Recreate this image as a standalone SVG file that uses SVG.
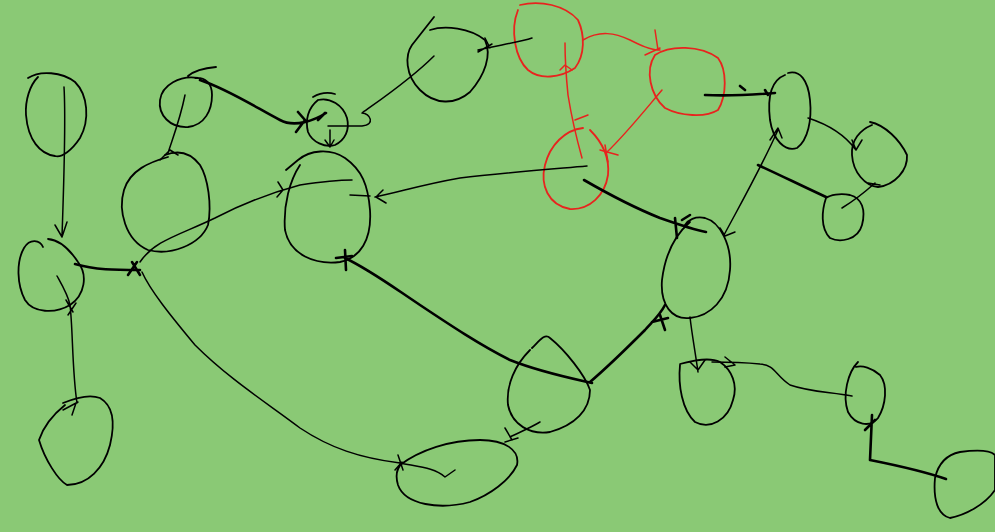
<svg xmlns="http://www.w3.org/2000/svg" width="995" height="532" viewBox="0 0 995 532">
<style>
path{fill:none;stroke-linecap:round;stroke-linejoin:round}
.n{stroke:#000;stroke-width:1.8}
.r{stroke:#e8231e;stroke-width:1.8}
.c{stroke:#000;stroke-width:1.5}
.t{stroke:#000;stroke-width:2.6}
.cr{stroke:#e8231e;stroke-width:1.5}
</style>
<rect width="995" height="532" fill="#8ac975"/>
<g id="n1"><path class="n" d="M28,78 C40,70 62,72 75,82 C88,95 90,120 80,138 C72,150 62,158 55,156 C40,154 28,140 26,115 C25,100 30,85 38,77"/></g>
<g id="n2"><path class="n" d="M43,247 C40,240 30,238 24,248 C16,262 17,285 25,300 C33,313 55,314 70,305 C85,295 88,275 78,262 C70,250 60,240 48,239"/></g>
<g id="n3"><path class="n" d="M63,403 C75,398 90,394 100,398 C112,405 116,420 110,445 C104,468 88,485 67,485 C58,480 45,460 39,440 C44,425 55,413 65,405"/></g>
<g id="n4"><path class="n" d="M168,157 C150,162 130,170 124,190 C118,210 125,240 148,250 C170,256 200,245 208,225 C212,205 208,178 200,165 C190,152 178,150 165,155"/></g>
<g id="n5"><path class="n" d="M198,78 C180,75 162,85 160,100 C158,115 170,128 188,127 C205,125 212,110 212,95 C212,83 205,77 195,78 M188,76 C195,70 205,68 216,67"/></g>
<g id="n6"><path class="n" d="M318,100 C308,108 305,120 308,132 C312,142 325,148 335,145 C345,140 350,130 347,118 C343,105 330,97 318,100 M313,97 C320,93 328,92 335,94"/></g>
<g id="n7"><path class="n" d="M300,165 C290,180 283,205 285,230 C290,255 315,265 340,262 C360,258 372,240 370,210 C368,185 362,170 345,158 C330,148 310,150 298,160 L286,170"/></g>
<g id="n8"><path class="n" d="M430,30 C445,25 470,28 485,40 C492,55 485,75 470,92 C455,105 435,105 420,90 C405,75 405,55 412,45 L434,17"/></g>
<g id="n9"><path class="r" d="M520,5 C540,0 565,5 578,20 C585,35 585,55 575,68 C560,78 540,80 528,70 C515,58 510,30 518,10"/></g>
<g id="n10"><path class="r" d="M655,55 C670,45 700,45 718,58 C727,70 727,95 718,110 C705,118 680,116 665,108 C650,95 645,70 655,55"/></g>
<g id="n11"><path class="r" d="M583,128 C565,130 550,145 545,165 C540,185 548,205 570,209 C590,210 605,195 608,175 C610,155 600,140 590,130"/></g>
<g id="n12"><path class="n" d="M785,75 C772,80 767,95 770,120 C773,140 785,152 797,148 C808,140 812,120 810,100 C808,80 800,70 788,73"/></g>
<g id="n13"><path class="n" d="M870,122 C885,125 900,140 907,155 C908,170 895,185 878,187 C865,186 853,172 852,155 C851,140 860,130 872,125"/></g>
<g id="n14"><path class="n" d="M826,198 C822,210 820,228 830,238 C840,243 858,240 862,225 C866,210 862,198 850,195 C840,193 830,195 826,198"/></g>
<g id="n15"><path class="n" d="M690,222 C675,235 665,255 662,280 C660,305 672,320 690,318 C710,316 728,300 730,270 C732,245 720,222 705,218 C695,216 688,220 685,225"/></g>
<g id="n16"><path class="n" d="M532,348 C540,340 545,333 550,338 C565,350 585,375 590,390 C590,410 575,425 550,432 C530,435 512,425 508,405 C506,385 515,365 530,350"/></g>
<g id="n17"><path class="n" d="M400,465 C420,450 450,440 480,440 C505,440 520,450 517,465 C510,480 490,495 470,502 C440,510 405,505 398,485 C395,475 397,468 402,463"/></g>
<g id="n18"><path class="n" d="M680,365 C678,385 682,410 695,422 C710,430 728,420 733,400 C738,385 732,370 720,362 C710,357 695,360 680,364"/></g>
<g id="n19"><path class="n" d="M858,362 C848,372 842,395 848,412 C855,425 870,428 878,418 C886,405 888,385 880,375 C872,368 862,365 856,367"/></g>
<g id="n20"><path class="n" d="M960,452 C975,450 990,450 995,455 L995,490 C985,505 965,515 950,518 C938,515 933,500 935,478 C938,465 945,455 960,452"/></g>
<g id="connectors">
<path class="c" d="M64,87 C66,120 64,180 62,236 M55,225 L62,237 L67,222"/>
<path class="t" d="M75,264 C95,270 115,270 140,270 M128,275 L137,262 M132,262 L140,275"/>
<path class="c" d="M57,276 C62,285 68,295 70,305 C73,330 72,370 77,403 M66,300 L73,312 M68,315 L76,303 M63,410 L78,402 M72,415 L76,403"/>
<path class="c" d="M185,95 C180,120 172,140 168,153 M160,160 L170,150 L178,155"/>
<path class="t" d="M200,80 C230,90 260,110 280,120 C295,128 315,120 326,113 M298,112 L305,120 L296,132 M318,120 L325,113"/>
<path class="c" d="M330,130 L330,145 M325,140 L330,147 L334,140"/>
<path class="c" d="M434,56 C410,80 380,100 362,113 C370,113 376,125 362,126 L328,126"/>
<path class="c" d="M532,38 C520,42 500,45 478,50 M485,38 L490,48 M478,52 L492,44"/>
<path class="cr" d="M583,40 C600,30 615,33 630,40 C640,45 650,50 660,50 M655,30 L658,50 M645,55 L660,48"/>
<path class="cr" d="M662,90 C645,110 625,135 607,152 M600,150 L618,155 M605,145 L608,162"/>
<path class="cr" d="M582,158 C577,140 572,120 568,95 C566,75 565,55 565,43 M560,70 L565,65 L572,70 M575,120 L588,115"/>
<path class="t" d="M705,95 C725,96 750,95 775,93 M740,86 L745,90 M765,90 L768,95"/>
<path class="c" d="M587,166 C540,170 500,173 460,178 C420,185 400,192 375,197 M383,190 L376,197 L386,203 M350,195 L370,196"/>
<path class="c" d="M140,262 C155,240 180,235 215,218 C240,205 270,193 300,185 C320,182 340,180 352,180 M278,182 L283,190 L277,197"/>
<path class="t" d="M584,180 C610,195 640,210 660,218 C680,225 695,230 706,232 M675,218 L677,238 M682,220 L690,215"/>
<path class="c" d="M724,235 C740,205 760,170 778,130 M720,228 L725,236 L735,232 M770,140 L778,128 L782,138"/>
<path class="c" d="M808,118 C830,125 845,135 856,150 M852,140 L856,150 L862,140"/>
<path class="c" d="M875,183 C865,192 855,200 842,208 M868,183 L880,185"/>
<path class="t" d="M758,165 C780,175 800,185 826,197"/>
<path class="t" d="M590,382 C610,365 630,345 645,330 C652,322 660,315 665,305 M652,322 L668,318 M660,315 L665,330"/>
<path class="t" d="M345,258 C370,270 390,285 420,305 C450,325 480,345 510,360 C540,372 570,378 592,383 M336,258 L352,256 M345,250 L346,270"/>
<path class="c" d="M142,272 C150,290 170,315 195,345 C230,380 270,405 300,428 C330,448 360,458 400,463 C420,467 435,468 445,477 L455,470 M398,455 L403,470 M395,470 L402,462"/>
<path class="c" d="M540,422 C530,428 520,432 510,437 M505,428 L512,440 M505,442 L518,438"/>
<path class="c" d="M690,317 C692,335 695,350 698,372 M690,362 L698,370 L705,360"/>
<path class="c" d="M852,396 C830,392 810,392 790,385 C775,375 775,365 760,364 C740,362 730,362 712,362 M725,357 L735,365 L725,367"/>
<path class="t" d="M872,415 L870,460 C895,465 920,470 946,479 M865,430 L875,420"/>
</g>
</svg>
